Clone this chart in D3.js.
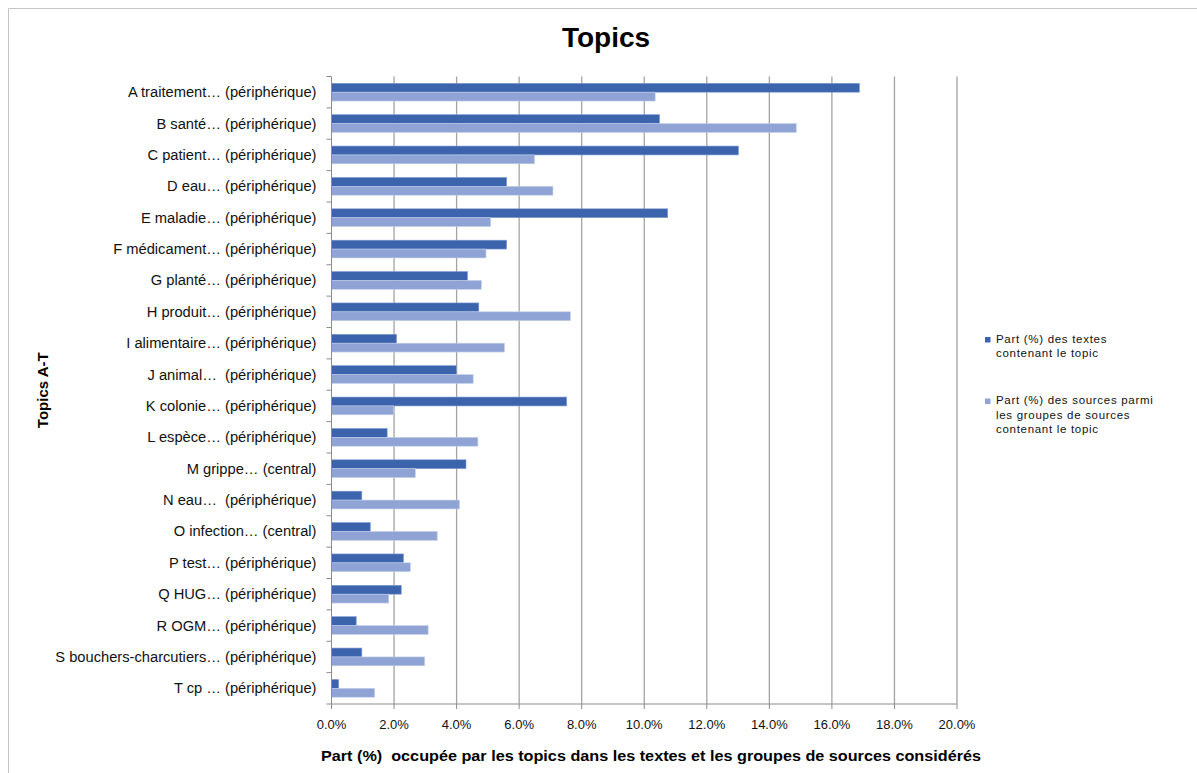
<!DOCTYPE html>
<html>
<head>
<meta charset="utf-8">
<script src="https://cdn.jsdelivr.net/npm/d3@7"></script>
<style>
  html, body { margin: 0; padding: 0; background: #fff; }
  svg { display: block; font-family: "Liberation Sans", Arial, sans-serif; }
</style>
</head>
<body>
<svg id="chart" width="1197" height="773"></svg>
<script>
// Topics A–T and their shares (%)
const categories = [
  "A traitement… (périphérique)",
  "B santé… (périphérique)",
  "C patient… (périphérique)",
  "D eau… (périphérique)",
  "E maladie… (périphérique)",
  "F médicament… (périphérique)",
  "G planté… (périphérique)",
  "H produit… (périphérique)",
  "I alimentaire… (périphérique)",
  "J animal…  (périphérique)",
  "K colonie… (périphérique)",
  "L espèce… (périphérique)",
  "M grippe… (central)",
  "N eau…  (périphérique)",
  "O infection… (central)",
  "P test… (périphérique)",
  "Q HUG… (périphérique)",
  "R OGM… (périphérique)",
  "S bouchers-charcutiers… (périphérique)",
  "T cp … (périphérique)"
];

// Share of texts containing the topic
const textShare = [16.88, 10.49, 13.01, 5.60, 10.75, 5.60, 4.35, 4.71, 2.08, 3.99,
                   7.52, 1.78, 4.30, 0.97, 1.24, 2.30, 2.23, 0.79, 0.97, 0.23];

// Share of sources among the source groups containing the topic
const sourceShare = [10.35, 14.86, 6.49, 7.08, 5.09, 4.94, 4.79, 7.64, 5.53, 4.53,
                     1.99, 4.68, 2.68, 4.09, 3.38, 2.52, 1.83, 3.09, 2.98, 1.38];

const xTicks = [0, 2, 4, 6, 8, 10, 12, 14, 16, 18, 20];

const seriesNames = [
  ["Part (%) des textes", "contenant le topic"],
  ["Part (%) des sources parmi", "les groupes de sources", "contenant le topic"]
];
const seriesColors = ["#3c64ad", "#8fa4d5"];

const svg = d3.select("#chart");

// Outer frame (top and left edges visible)
svg.append("line").attr("x1", 8.5).attr("y1", 8.5).attr("x2", 1197).attr("y2", 8.5)
  .attr("stroke", "#c4c4c4").attr("stroke-width", 1);
svg.append("line").attr("x1", 8.5).attr("y1", 8.5).attr("x2", 8.5).attr("y2", 773)
  .attr("stroke", "#c4c4c4").attr("stroke-width", 1);

const plot = { left: 331.5, right: 957, top: 76.5, bottom: 704 };

const x = d3.scaleLinear().domain([0, 20]).range([plot.left, plot.right]);
const y = d3.scaleBand().domain(categories).range([plot.top, plot.bottom]).padding(0);

const bw = y.bandwidth();
const barH = bw * 0.283;
const groupOff = (bw - 2 * barH) / 2;

// Vertical gridlines
svg.append("g").selectAll("line").data(xTicks.slice(1)).join("line")
  .attr("x1", d => x(d)).attr("x2", d => x(d))
  .attr("y1", plot.top).attr("y2", plot.bottom)
  .attr("stroke", "#a3a3a3").attr("stroke-width", 1.3);

// Bars
const series = [textShare, sourceShare];
series.forEach((vals, si) => {
  svg.append("g").selectAll("rect").data(categories).join("rect")
    .attr("x", x(0))
    .attr("y", d => y(d) + groupOff + si * barH)
    .attr("width", (d, i) => x(vals[i]) - x(0))
    .attr("height", barH)
    .attr("fill", seriesColors[si])
    .attr("stroke", si === 0 ? "#7f9bd0" : "#c5d0ea")
    .attr("stroke-width", 0.6);
});

// Y axis (category)
const yAxis = svg.append("g").attr("transform", `translate(${plot.left},0)`);
yAxis.append("line").attr("x1", 0).attr("x2", 0).attr("y1", plot.top).attr("y2", plot.bottom)
  .attr("stroke", "#8c8c8c").attr("stroke-width", 1);
const bounds = categories.map(c => y(c)).concat([plot.bottom]);
yAxis.selectAll("line.tick").data(bounds).join("line").attr("class", "tick")
  .attr("x1", -5).attr("x2", 0).attr("y1", d => d).attr("y2", d => d)
  .attr("stroke", "#8c8c8c");
yAxis.selectAll("text").data(categories).join("text")
  .attr("x", -15).attr("y", d => y(d) + bw / 2 + 5)
  .attr("text-anchor", "end")
  .attr("font-size", "14.7px").attr("fill", "#111")
  .style("white-space", "pre")
  .text(d => d);

// X axis
const xAxis = svg.append("g").attr("transform", `translate(0,${plot.bottom})`);
xAxis.append("line").attr("x1", plot.left).attr("x2", plot.right).attr("y1", 0).attr("y2", 0)
  .attr("stroke", "#8c8c8c");
xAxis.selectAll("line.tick").data(xTicks).join("line").attr("class", "tick")
  .attr("x1", d => x(d)).attr("x2", d => x(d)).attr("y1", 0).attr("y2", 5)
  .attr("stroke", "#8c8c8c");
xAxis.selectAll("text").data(xTicks).join("text")
  .attr("x", d => x(d)).attr("y", 25)
  .attr("text-anchor", "middle")
  .attr("font-size", "13px").attr("fill", "#111")
  .text(d => d3.format(".1f")(d) + "%");

// Title
svg.append("text").attr("x", 606).attr("y", 47).attr("text-anchor", "middle")
  .attr("font-size", "28px").attr("font-weight", "bold").attr("fill", "#000")
  .text("Topics");

// Axis titles
svg.append("text").attr("x", 651).attr("y", 761).attr("text-anchor", "middle")
  .attr("font-size", "15px").attr("font-weight", "bold").attr("fill", "#000")
  .attr("textLength", 660).attr("lengthAdjust", "spacingAndGlyphs")
  .style("white-space", "pre")
  .text("Part (%)  occupée par les topics dans les textes et les groupes de sources considérés");

svg.append("text")
  .attr("transform", `translate(48,${(plot.top + plot.bottom) / 2}) rotate(-90)`)
  .attr("text-anchor", "middle")
  .attr("font-size", "15px").attr("font-weight", "bold").attr("fill", "#000")
  .text("Topics A-T");

// Legend
const legendItems = [{ y: 342.5 }, { y: 404 }];
legendItems.forEach((item, i) => {
  const g = svg.append("g");
  g.append("rect").attr("x", 985).attr("y", item.y - 5.5).attr("width", 5.5).attr("height", 5.5)
    .attr("fill", seriesColors[i]);
  seriesNames[i].forEach((line, li) => {
    g.append("text").attr("x", 996).attr("y", item.y + li * 14.7)
      .attr("font-size", "11.5px").attr("letter-spacing", "0.7px").attr("fill", "#111")
      .text(line);
  });
});
</script>
</body>
</html>
